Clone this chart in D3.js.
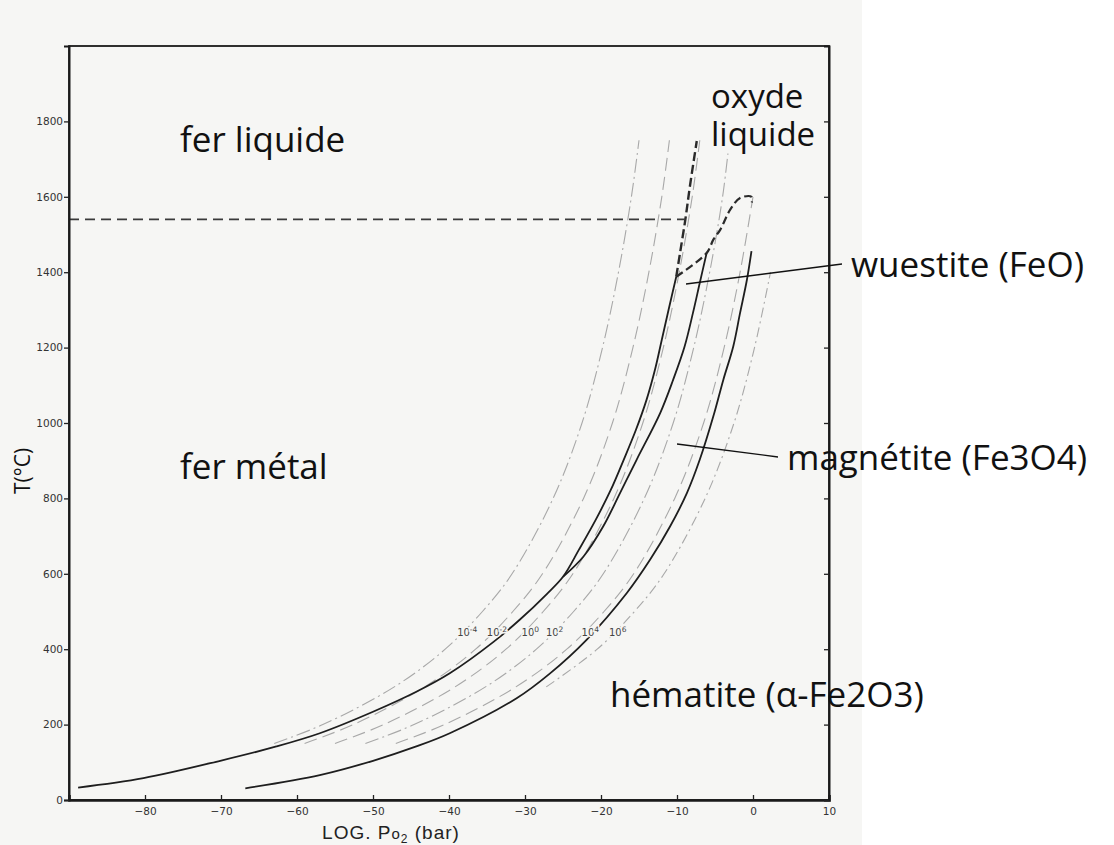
<!DOCTYPE html>
<html>
<head>
<meta charset="utf-8">
<script src="https://cdn.jsdelivr.net/npm/d3@7"></script>
<style>
  html, body { margin: 0; padding: 0; background: #ffffff; }
  svg { display: block; }
</style>
</head>
<body>
<svg id="chart" width="1114" height="845"></svg>
<script>
// ---------- data (log pO2 in bar, T in °C) ----------
const xTicks = [-80, -70, -60, -50, -40, -30, -20, -10, 0, 10];
const yTicks = [0, 200, 400, 600, 800, 1000, 1200, 1400, 1600, 1800];

// Fe / Fe3O4 (below triple point) then Fe / FeO
const feBoundary = [[-88.8,33],[-80.2,58],[-70.1,104],[-62.7,142],[-57.0,177],[-50.0,234],[-44.3,287],[-39.9,336],[-34.1,420],[-30.7,478],[-27.1,547],[-25.0,592],[-22.9,664],[-20.7,743],[-18.7,823],[-17.0,903],[-15.4,982],[-14.0,1062],[-12.9,1141],[-12.0,1221],[-11.1,1301],[-10.1,1388]];
// FeO / Fe3O4
const wuestiteBoundary = [[-25.0,592],[-22.3,646],[-19.7,726],[-17.5,814],[-15.3,903],[-12.2,1027],[-10.5,1115],[-9.0,1203],[-7.9,1292],[-7.0,1372],[-6.1,1451]];
// Fe3O4 / Fe2O3
const hematiteBoundary = [[-66.8,31],[-57.0,66],[-50.0,104],[-44.3,142],[-39.9,177],[-31.1,270],[-26.7,336],[-21.9,425],[-16.6,549],[-13.55,637],[-10.9,726],[-8.7,814],[-7.0,903],[-5.2,1019],[-3.9,1115],[-2.6,1203],[-1.7,1292],[-0.8,1380],[-0.2,1456]];
// liquid boundaries (dashed)
const ironLiquidBoundary = [[-10.1,1388],[-9.6,1451],[-8.9,1540],[-8.3,1628],[-7.4,1748]];
const oxideLiquidus = [[-10.1,1388],[-6.1,1451],[-5.2,1487],[-4.3,1513],[-3.0,1566],[-1.7,1597],[-0.2,1600],[-0.15,1585]];
const ironMelting = [[-90,1540],[-8.9,1540]];

// iso-ratio lines (thin, grey)
const ratioLabels = ["10", "10", "10", "10", "10", "10"];
const ratioExponents = ["-4", "-2", "0", "2", "4", "6"];
const ratioLabelPos = [[-37.6,436],[-33.7,436],[-29.3,436],[-26.1,436],[-21.4,436],[-17.8,436]];
const ratioM4 = [[-63.0,150],[-56.6,200],[-47.2,300],[-40.5,400],[-35.6,500],[-31.7,600],[-26.3,800],[-22.5,1000],[-19.8,1200],[-17.7,1400],[-16.0,1600],[-15.0,1750]];
const ratioM2 = [[-59.0,150],[-52.6,200],[-43.2,300],[-36.5,400],[-31.6,500],[-27.7,600],[-22.3,800],[-18.5,1000],[-15.8,1200],[-13.7,1400],[-12.0,1600],[-11.0,1750]];
const ratio0  = [[-55.0,150],[-48.6,200],[-39.2,300],[-32.5,400],[-27.6,500],[-23.7,600],[-18.3,800],[-14.5,1000],[-11.8,1200],[-9.7,1400],[-8.0,1600],[-7.0,1750]];
const ratioP2 = [[-51.0,150],[-44.6,200],[-35.2,300],[-28.5,400],[-23.6,500],[-19.7,600],[-14.3,800],[-10.5,1000],[-7.8,1200],[-5.7,1400],[-4.0,1600],[-3.3,1715]];
const ratioP4 = [[-47.0,150],[-40.6,200],[-31.2,300],[-24.5,400],[-19.6,500],[-15.7,600],[-10.3,800],[-6.5,1000],[-3.8,1200],[-1.7,1400],[0.0,1600]];
const ratioP6 = [[-27.2,300],[-20.5,400],[-15.6,500],[-11.7,600],[-6.3,800],[-2.5,1000],[0.2,1200],[2.3,1400]];

// region labels
const regionNames = ["fer liquide", "fer métal", "wuestite (FeO)", "magnétite (Fe3O4)", "hématite (α-Fe2O3)"];
const oxideLiquidLines = ["oxyde", "liquide"];

// ---------- drawing ----------
const W = 1114, H = 845;
const svg = d3.select("#chart");
const x = d3.scaleLinear().domain([-90, 10]).range([69, 829]);
const y = d3.scaleLinear().domain([0, 2000]).range([800, 46]);

svg.append("rect").attr("x", 0).attr("y", 0).attr("width", 862).attr("height", H).attr("fill", "#f6f6f4");
svg.append("rect").attr("x", 862).attr("y", 0).attr("width", W - 862).attr("height", H).attr("fill", "#ffffff");

const line = d3.line().x(d => x(d[0])).y(d => y(d[1])).curve(d3.curveCatmullRom.alpha(0.5));
const straight = d3.line().x(d => x(d[0])).y(d => y(d[1]));

// thin ratio lines
const ratioSets = [
  {d: ratioM4, dash: "14,4,2,4"},
  {d: ratioM2, dash: "13,6"},
  {d: ratio0,  dash: "13,6"},
  {d: ratioP2, dash: "14,4,2,4"},
  {d: ratioP4, dash: "13,6"},
  {d: ratioP6, dash: "10,4,2,4"}
];
ratioSets.forEach(s => {
  svg.append("path").attr("d", line(s.d)).attr("fill", "none")
    .attr("stroke", "#a8a8a8").attr("stroke-width", 1.1).attr("stroke-dasharray", s.dash);
});

// solid boundaries
[feBoundary, wuestiteBoundary, hematiteBoundary].forEach(d => {
  svg.append("path").attr("d", line(d)).attr("fill", "none")
    .attr("stroke", "#1e1e1e").attr("stroke-width", 1.8);
});

// dashed liquid boundaries
svg.append("path").attr("d", line(ironLiquidBoundary)).attr("fill", "none")
  .attr("stroke", "#2a2a2a").attr("stroke-width", 2.4).attr("stroke-dasharray", "9,4");
svg.append("path").attr("d", line(oxideLiquidus)).attr("fill", "none")
  .attr("stroke", "#2a2a2a").attr("stroke-width", 2.2).attr("stroke-dasharray", "8,4");
svg.append("path").attr("d", straight(ironMelting)).attr("fill", "none")
  .attr("stroke", "#3a3a3a").attr("stroke-width", 1.8).attr("stroke-dasharray", "10,6");

// ratio labels
ratioLabelPos.forEach((p, i) => {
  const t = svg.append("text").attr("x", x(p[0])).attr("y", y(p[1]))
    .attr("font-family", "DejaVu Sans").attr("font-size", 10).attr("fill", "#444")
    .attr("stroke", "#f6f6f4").attr("stroke-width", 3).attr("paint-order", "stroke")
    .attr("text-anchor", "middle");
  t.append("tspan").text(ratioLabels[i]);
  t.append("tspan").attr("dy", -4).attr("font-size", 7.5).text(ratioExponents[i]);
});

// frame
svg.append("rect").attr("x", 69).attr("y", 46).attr("width", 829 - 69).attr("height", 800 - 46)
  .attr("fill", "none").attr("stroke", "#1a1a1a").attr("stroke-width", 1.8);

// axes
const gx = svg.append("g").attr("transform", "translate(0,800)")
  .call(d3.axisBottom(x).tickValues(xTicks).tickSize(-5).tickPadding(8).tickFormat(d3.format("d")));
const gy = svg.append("g").attr("transform", "translate(69,0)")
  .call(d3.axisLeft(y).tickValues(yTicks).tickSize(5).tickPadding(1).tickFormat(d3.format("d")));
const gr = svg.append("g").attr("transform", "translate(829,0)")
  .call(d3.axisRight(y).tickValues(yTicks).tickSize(-5).tickFormat(""));
[gx, gy, gr].forEach(g => {
  g.select(".domain").attr("stroke", "#1a1a1a").attr("stroke-width", 2);
  g.selectAll(".tick line").attr("stroke", "#222").attr("stroke-width", 1.3);
  g.selectAll(".tick text").attr("font-family", "DejaVu Sans").attr("font-size", 10.5).attr("fill", "#333");
});
gx.select(".domain").attr("stroke-width", 2.6);

// axis titles
const xt = svg.append("text").attr("x", 391).attr("y", 839).attr("text-anchor", "middle")
  .attr("font-family", "Liberation Sans").attr("font-size", 19).attr("letter-spacing", 1).attr("fill", "#222");
xt.append("tspan").text("LOG. P");
xt.append("tspan").attr("font-size", 15).text("o");
xt.append("tspan").attr("font-size", 12).attr("dy", 4).text("2");
xt.append("tspan").attr("dy", -4).text(" (bar)");

svg.append("text").attr("transform", "translate(30,471) rotate(-90)").attr("text-anchor", "middle")
  .attr("font-family", "Open Sans").attr("font-size", 21).attr("fill", "#111").text("T(°C)");

// leader lines
svg.append("line").attr("x1", 686).attr("y1", 284).attr("x2", 842).attr("y2", 264)
  .attr("stroke", "#111").attr("stroke-width", 1.3);
svg.append("line").attr("x1", 677).attr("y1", 444).attr("x2", 778).attr("y2", 457)
  .attr("stroke", "#111").attr("stroke-width", 1.3);

// region labels
const lab = (txt, lx, ly) => svg.append("text").attr("x", lx).attr("y", ly)
  .attr("font-family", "Open Sans").attr("font-size", 35).attr("fill", "#111").text(txt);
lab(regionNames[0], 180, 152);
lab(regionNames[1], 180, 479);
lab(regionNames[2], 851, 277);
lab(regionNames[3], 787, 470);
lab(regionNames[4], 610, 707);
const ox = svg.append("text").attr("font-family", "Open Sans").attr("font-size", 33).attr("fill", "#111");
ox.append("tspan").attr("x", 711).attr("y", 108).text(oxideLiquidLines[0]);
ox.append("tspan").attr("x", 711).attr("y", 146).text(oxideLiquidLines[1]);
</script>
</body>
</html>
